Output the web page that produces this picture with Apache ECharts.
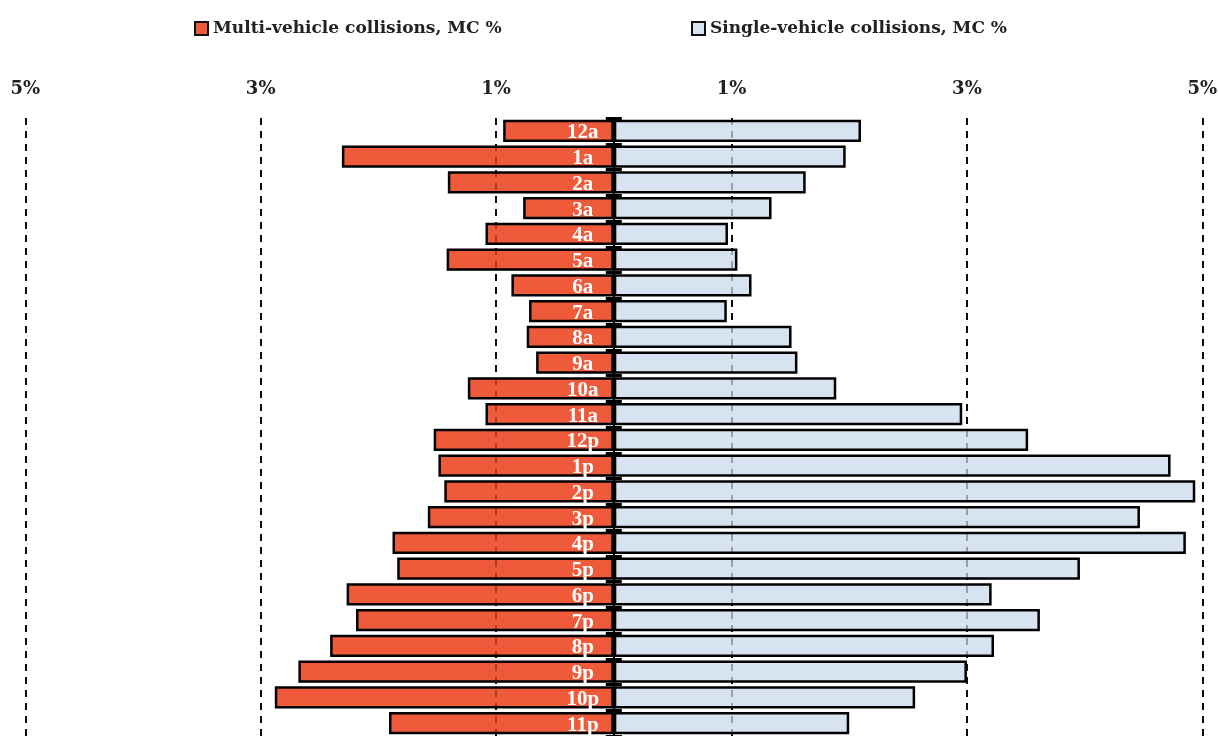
<!DOCTYPE html>
<html>
<head>
<meta charset="utf-8">
<script src="https://cdn.jsdelivr.net/npm/echarts@6/dist/echarts.min.js"></script>
<style>
html,body{margin:0;padding:0;background:#fff;}
#chart{width:1218px;height:736px;}
</style>
</head>
<body>
<div id="chart"></div>
<script>
const hours = ['12a','1a','2a','3a','4a','5a','6a','7a','8a','9a','10a','11a','12p','1p','2p','3p','4p','5p','6p','7p','8p','9p','10p','11p'];
const multiVehicle = [0.94,2.31,1.41,0.77,1.09,1.42,0.87,0.72,0.74,0.66,1.24,1.09,1.53,1.49,1.44,1.58,1.88,1.84,2.27,2.19,2.41,2.68,2.88,1.91];
const singleVehicle = [2.10,1.97,1.63,1.34,0.97,1.05,1.17,0.96,1.51,1.56,1.89,2.96,3.52,4.73,4.94,4.47,4.86,3.96,3.21,3.62,3.23,3.00,2.56,2.00];
const tickValues = [-5,-3,-1,1,3,5];
const multiName = 'Multi-vehicle collisions, MC %';
const singleName = 'Single-vehicle collisions, MC %';

const serif = '"DejaVu Serif", "Liberation Serif", serif';
const serif2 = '"Liberation Serif", "DejaVu Serif", serif';
const GRID_LEFT = 13.5, GRID_W = 1200.6, XMAX = 5.1;
const centerOffset = GRID_W / 2;
const chart = echarts.init(document.getElementById('chart'), null, {renderer:'canvas'});
chart.setOption({
  animation:false,
  backgroundColor:'#ffffff',
  legend:[
    {data:[multiName], left:189, top:15, itemWidth:13, itemHeight:13, itemGap:10,
     icon:'rect', selectedMode:false,
     itemStyle:{color:'#ee5a3a', borderColor:'#111', borderWidth:2, opacity:1},
     textStyle:{fontFamily:serif, fontWeight:'bold', fontSize:17, color:'#222'}},
    {data:[singleName], left:686, top:15, itemWidth:13, itemHeight:13, itemGap:10,
     icon:'rect', selectedMode:false,
     itemStyle:{color:'#d7e3f1', borderColor:'#111', borderWidth:2, opacity:1},
     textStyle:{fontFamily:serif, fontWeight:'bold', fontSize:17, color:'#222'}}
  ],
  grid:{left:GRID_LEFT, width:GRID_W, top:118, bottom:0, containLabel:false, outerBoundsMode:'none'},
  xAxis:{
    type:'value', position:'top', min:-XMAX, max:XMAX,
    axisLine:{show:false}, axisTick:{show:false}, splitLine:{show:false},
    axisLabel:{customValues:tickValues, margin:20, formatter:v=>Math.abs(v)+'%',
      fontFamily:serif, fontWeight:'bold', fontSize:18, color:'#222'}
  },
  yAxis:[
    {type:'category', data:hours, inverse:true, z:10,
     axisLine:{show:true, onZero:true, lineStyle:{color:'#000', width:2}},
     axisTick:{show:true, length:8, interval:0, lineStyle:{color:'#000', width:3}},
     axisLabel:{show:false}},
    {type:'category', data:hours, inverse:true, z:10, position:'left', offset:-centerOffset,
     axisLine:{show:false, onZero:false},
     axisTick:{show:true, inside:true, length:8, interval:0, lineStyle:{color:'#000', width:3}},
     axisLabel:{show:false}}
  ],
  series:[
    {type:'line', data:[], z:1, silent:true,
     markLine:{silent:true, symbol:'none', animation:false, z:1,
       label:{show:false},
       lineStyle:{color:'#111', width:2, type:[7,6]},
       data:tickValues.map(v=>({xAxis:v}))}},
    {name:multiName, type:'bar', z:2, barGap:'-100%', barCategoryGap:'14%',
     data:multiVehicle.map(v=>-v),
     itemStyle:{color:'#ee5a3a', borderColor:'#000', borderWidth:2.5}},
    {name:singleName, type:'bar', z:2, barGap:'-100%', barCategoryGap:'14%',
     data:singleVehicle,
     itemStyle:{color:'#d7e3f1', borderColor:'#000', borderWidth:2.5}},
    {type:'line', data:[], z:8, silent:true,
     markLine:{silent:true, symbol:'none', animation:false, z:8,
       label:{show:false},
       lineStyle:{color:'rgba(0,0,0,0.3)', width:2, type:[7,6]},
       data:tickValues.map(v=>({xAxis:v}))}},
    {type:'bar', z:9, barGap:'-100%', barCategoryGap:'14%', silent:true,
     data:hours.map(()=>0),
     itemStyle:{color:'rgba(0,0,0,0)', borderWidth:0},
     label:{show:true, position:[-31,'50%'], align:'center', verticalAlign:'middle',
       offset:[0,2], formatter:p=>p.name,
       color:'#fff', fontFamily:serif2, fontWeight:'bold', fontSize:21}}
  ]
});
</script>
</body>
</html>
